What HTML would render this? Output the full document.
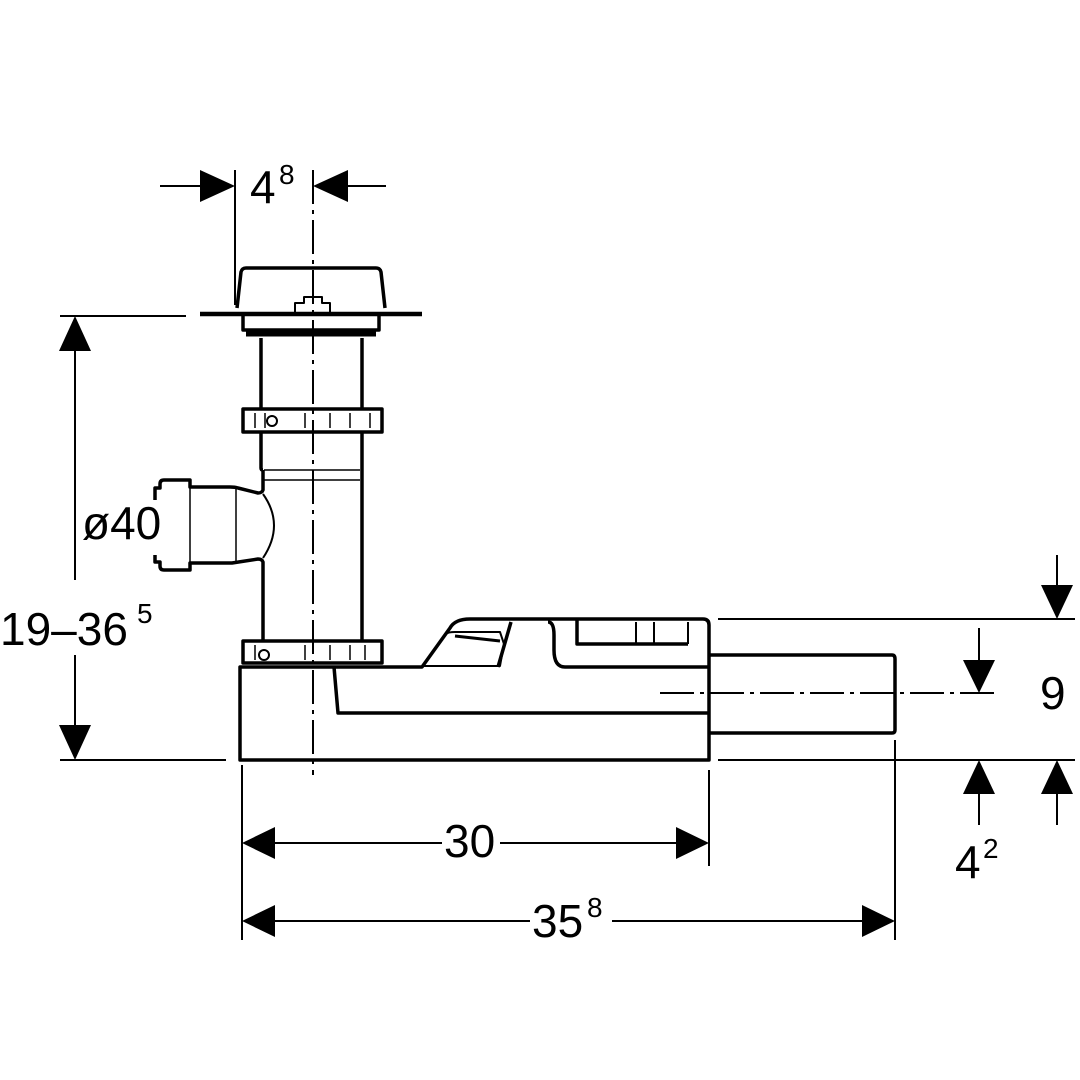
<!DOCTYPE html>
<html><head><style>body{margin:0;background:#fff}svg{display:block}text{font-family:"Liberation Sans",sans-serif;fill:#000}</style></head><body>
<svg width="1080" height="1080" viewBox="0 0 1080 1080" xmlns="http://www.w3.org/2000/svg">
<g fill="none" stroke="#000" stroke-linejoin="round">
<path d="M237,308 L241,272 Q242,268 246,268 L376,268 Q380,268 381,272 L385,308" stroke-width="3.5"/>
<path d="M295,312 V303 H304 V297 H322 V303 H330 V312" stroke-width="2"/>
<line x1="200" y1="314" x2="422" y2="314" stroke-width="4.5"/>
<path d="M243,314 V330 H379 V314" stroke-width="3.5"/>
<line x1="246" y1="334" x2="376" y2="334" stroke-width="5"/>
<path d="M261,338 V408 M362,338 V408" stroke-width="3.5"/>
<rect x="243" y="409" width="139" height="23" stroke-width="3.5"/>
<path d="M255,413 V428 M265,413 V428 M305,413 V428 M330,413 V428 M350,413 V428 M370,413 V428" stroke-width="1.5"/>
<circle cx="272" cy="421" r="5" stroke-width="2"/>
<path d="M261,432 V468 Q261,470 263,470 H263 M362,432 V640" stroke-width="3.5"/>
<line x1="264" y1="470" x2="360" y2="470" stroke-width="1.5"/>
<line x1="264" y1="480" x2="360" y2="480" stroke-width="1.5"/>
<path d="M263,470 V490 Q262,493 258,493 L238,488 Q235,487 230,487 H190 V480 H164 Q160,480 160,484 V488 H155 V500 M155,555 V562 H160 V566 Q160,570 164,570 H190 V563 H232 L258,559 Q262,559 263,562 V640" stroke-width="3.5"/>
<path d="M190,487 V563 M236,488 V563" stroke-width="1.5"/>
<path d="M263,494 Q285,525 263,558" stroke-width="2"/>
<rect x="243" y="641" width="139" height="22" stroke-width="3.5"/>
<path d="M255,645 V660 M305,645 V660 M330,645 V660 M350,645 V660 M365,645 V660" stroke-width="1.5"/>
<circle cx="264" cy="655" r="5" stroke-width="2"/>
<path d="M240,667 H422 L450,628 Q455,619 470,619 H703 Q709,619 709,625 V760 H240 Z" stroke-width="3.5"/>
<path d="M334,667 L338,713 H709" stroke-width="3.5"/>
<path d="M423,666 L446,634 Q448,632 455,632 H500 L504,644 L500,666 Z" stroke-width="2"/>
<line x1="455" y1="636" x2="500" y2="641" stroke-width="3"/>
<path d="M511,622 L498,667 M548,622 Q554,622 554,635 V650 Q554,667 565,667 H709" stroke-width="3.5"/>
<path d="M577,619 V644 H688" stroke-width="3.5"/>
<path d="M636,622 V644 M654,622 V644 M688,622 V644" stroke-width="2"/>
<path d="M709,655 H892 Q895,655 895,659 V730 Q895,733 892,733 H709" stroke-width="3.5"/>
</g>
<g fill="none" stroke="#000" stroke-width="2">
<line x1="313" y1="170" x2="313" y2="775" stroke-dasharray="34,6,4,6"/>
<line x1="660" y1="693" x2="995" y2="693" stroke-dasharray="34,6,4,6"/>
<line x1="235" y1="170" x2="235" y2="305"/>
<line x1="60" y1="316" x2="186" y2="316"/>
<line x1="60" y1="760" x2="226" y2="760"/>
<line x1="718" y1="619" x2="1075" y2="619"/>
<line x1="718" y1="760" x2="1075" y2="760"/>
<line x1="242" y1="765" x2="242" y2="940"/>
<line x1="709" y1="770" x2="709" y2="866"/>
<line x1="895" y1="740" x2="895" y2="940"/>
<line x1="160" y1="186" x2="205" y2="186"/>
<line x1="343" y1="186" x2="386" y2="186"/>
<line x1="75" y1="345" x2="75" y2="580"/>
<line x1="75" y1="655" x2="75" y2="730"/>
<line x1="272" y1="843" x2="442" y2="843"/>
<line x1="500" y1="843" x2="680" y2="843"/>
<line x1="272" y1="921" x2="530" y2="921"/>
<line x1="612" y1="921" x2="865" y2="921"/>
<line x1="1057" y1="555" x2="1057" y2="590"/>
<line x1="979" y1="628" x2="979" y2="665"/>
<line x1="979" y1="790" x2="979" y2="825"/>
<line x1="1057" y1="790" x2="1057" y2="825"/>
</g>
<g fill="#000">
<polygon points="235,186 200,170 200,202"/>
<polygon points="313,186 348,170 348,202"/>
<polygon points="75,316 59,351 91,351"/>
<polygon points="75,760 59,725 91,725"/>
<polygon points="242,843 275,827 275,859"/>
<polygon points="709,843 676,827 676,859"/>
<polygon points="242,921 275,905 275,937"/>
<polygon points="895,921 862,905 862,937"/>
<polygon points="1057,619 1041,585 1073,585"/>
<polygon points="979,693 963,660 995,660"/>
<polygon points="979,760 963,794 995,794"/>
<polygon points="1057,760 1041,794 1073,794"/>
</g>
<g font-size="46">
<text x="250" y="203">4</text>
<text x="82" y="539">ø40</text>
<text x="0" y="645">19–36</text>
<text x="444" y="857">30</text>
<text x="532" y="937">35</text>
<text x="1040" y="709">9</text>
<text x="955" y="878">4</text>
</g>
<g font-size="28">
<text x="279" y="184">8</text>
<text x="137" y="623">5</text>
<text x="587" y="917">8</text>
<text x="983" y="858">2</text>
</g>
</svg>
</body></html>
